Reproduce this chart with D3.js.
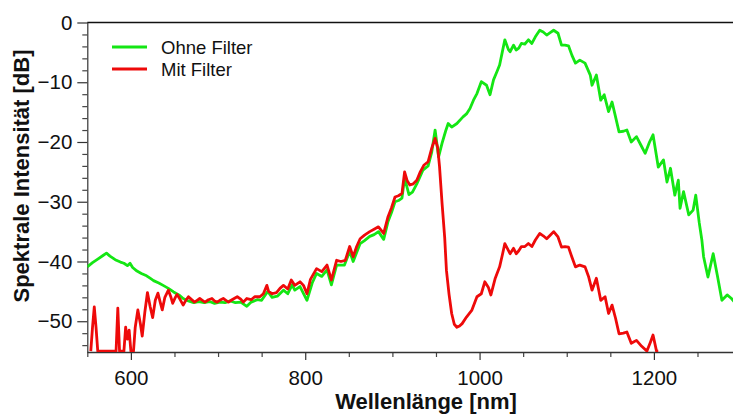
<!DOCTYPE html>
<html>
<head>
<meta charset="utf-8">
<script src="https://cdn.jsdelivr.net/npm/d3@7"></script>
<style>
  html, body { margin: 0; padding: 0; background: #fff; }
  svg { display: block; font-family: "Liberation Sans", Arial, Helvetica, sans-serif; }
</style>
</head>
<body>
<svg id="chart" width="733" height="414"></svg>
<script>
// Spectrum without filter: wavelength [nm] and spectral intensity [dB]
const ohneNm = [550,556,562,568,572,576,582,588,592,596,599,602,607,612,618,622,626,632,637,643,649,655,660,666,672,678,684,690,696,702,708,714,720,726,733,738,745,750,757,762,768,775,780,785,788,794,802,808,813,819,825,830,836,845,851,855,863,868,874,879,884,890,895,899,903,907,911,914,919,923,928,935,941,945,949,953,957,961,964,968,974,981,985,989,993,997,1002,1008,1012,1016,1020,1023,1026,1029,1033,1035,1039,1042,1045,1048,1052,1056,1060,1064,1069,1073,1077,1081,1085,1090,1094,1098,1102,1106,1110,1115,1121,1124,1127,1129,1134,1139,1143,1148,1152,1156,1160,1165,1169,1174,1180,1185,1190,1195,1199,1205,1211,1215,1219,1224,1228,1230,1234,1240,1245,1248,1252,1255,1257,1262,1268,1273,1278,1284,1289,1295];
const ohneDb = [-40.9,-40.2,-39.6,-39.0,-38.6,-39.1,-39.7,-40.1,-40.3,-40.7,-40.3,-41.0,-41.6,-42.0,-42.4,-42.8,-43.2,-43.6,-44.0,-44.5,-45.1,-45.6,-46.2,-46.6,-46.9,-46.7,-46.9,-46.7,-47.0,-46.8,-46.9,-46.6,-46.9,-46.8,-47.5,-46.8,-46.4,-46.5,-45.0,-46.0,-45.8,-44.8,-45.4,-43.9,-44.8,-44.2,-46.5,-43.6,-42.0,-42.5,-41.4,-43.9,-40.6,-40.6,-38.3,-40.0,-37.0,-36.5,-35.8,-35.5,-35.0,-36.3,-33.3,-31.8,-30.0,-29.8,-29.4,-26.0,-28.8,-28.4,-27.0,-24.7,-24.0,-21.8,-18.0,-22.5,-20.2,-18.2,-16.9,-17.5,-16.9,-15.8,-15.3,-14.4,-13.0,-11.9,-9.9,-10.5,-12.1,-9.6,-8.2,-7.1,-5.0,-2.9,-4.5,-4.9,-3.8,-4.6,-4.3,-3.5,-3.6,-2.9,-3.5,-2.4,-1.3,-1.6,-2.1,-1.7,-1.3,-1.8,-3.8,-3.8,-3.9,-5.5,-6.8,-6.3,-6.8,-7.8,-8.8,-10.5,-8.8,-13.0,-12.1,-14.9,-13.3,-15.8,-18.3,-18.2,-18.0,-20.0,-19.1,-20.5,-21.9,-20.0,-18.8,-24.2,-23.0,-26.7,-24.4,-28.9,-26.4,-31.1,-28.3,-32.2,-31.4,-28.9,-33.5,-36.4,-39.2,-42.6,-38.7,-42.5,-46.5,-45.6,-46.2,-47.2];

// Spectrum with filter
const mitNm = [554,556,558,560,562,583,585,587,592,594,596,598,600,603,605,608,611,613,616,619,622,625,628,631,634,636,639,643,646,648,651,653,657,660,663,666,669,673,676,679,682,685,689,693,696,699,702,706,709,712,716,722,726,729,733,738,742,748,752,756,758,762,767,771,775,780,784,788,794,798,802,806,813,819,825,830,836,841,846,851,855,859,863,868,874,879,884,890,895,899,903,907,911,914,917,920,924,928,932,936,941,945,949,952,954,957,960,962,965,968,971,974,977,980,985,991,997,1002,1006,1010,1013,1018,1023,1026,1029,1035,1039,1042,1045,1048,1052,1056,1060,1064,1069,1073,1077,1081,1085,1090,1094,1098,1102,1106,1110,1115,1121,1125,1129,1134,1139,1144,1148,1152,1156,1160,1165,1169,1174,1180,1186,1192,1196,1199,1203,1205];
const mitDb = [-55,-51,-47.6,-51,-55,-55,-47.8,-55,-55,-51,-53,-51.5,-55,-55,-51,-48.1,-50.5,-52.5,-48.5,-45.2,-47.5,-49.4,-46.5,-45.3,-47,-48.1,-46,-44.8,-46,-47,-46,-45.5,-46.5,-47.3,-46.5,-45.9,-46.3,-46.8,-46.5,-46.2,-46.5,-46.8,-46.4,-46.2,-46.6,-46.8,-46.5,-46.2,-46.5,-46.8,-46.4,-45.9,-46.3,-46.8,-46.2,-46.4,-45.9,-45.9,-45.4,-44.0,-45.0,-45.4,-45.2,-44.5,-44.0,-44.6,-43.1,-44.0,-43.4,-44.0,-45.4,-43.0,-41.2,-41.7,-40.6,-43.1,-39.8,-40.0,-39.8,-37.5,-39.2,-37.5,-36.2,-35.6,-35.0,-34.6,-34.2,-35.3,-32.5,-31.0,-29.2,-29.0,-28.6,-25.0,-26.5,-27.2,-27.0,-26.4,-25.0,-23.9,-23.3,-21.1,-19.4,-21.0,-24.0,-30.3,-36,-41.5,-45.5,-48.7,-50.5,-51.0,-50.8,-50.4,-49.3,-48.2,-45.9,-45.4,-43.4,-44.3,-45.6,-42.8,-40.9,-39,-37.0,-38.7,-37.8,-38.7,-38.2,-37.5,-37.5,-37.0,-37.5,-36.4,-35.3,-35.7,-36.2,-35.6,-35.0,-35.9,-37.6,-37.5,-37.6,-39.3,-40.9,-40.6,-40.9,-42.5,-44.8,-42.8,-46.5,-45.9,-48.7,-47.3,-49.5,-52.1,-52.0,-51.8,-53.7,-53.2,-54.2,-55,-53.5,-52.3,-55,-55];

const xMajorTicks = [600, 800, 1000, 1200];
const yMajorTicks = [0, -10, -20, -30, -40, -50];
const seriesNames = ["Ohne Filter", "Mit Filter"];
const seriesColors = ["#14e614", "#ee0a0a"];

const svg = d3.select("#chart");
const W = 733, H = 414;
const plotLeft = 87.3, plotTop = 22.5, plotBottom = 352;

const x = d3.scaleLinear().domain([550, 1300]).range([plotLeft, plotLeft + 750 * 0.8717]);
const y = d3.scaleLinear().domain([-55.15, 0]).range([plotBottom, plotTop]);

svg.append("clipPath").attr("id", "plot-clip")
  .append("rect").attr("x", plotLeft).attr("y", plotTop - 4)
  .attr("width", W - plotLeft).attr("height", plotBottom - plotTop + 4);

// Minor ticks
const xMinor = d3.range(550, 1301, 50).filter(v => !xMajorTicks.includes(v));
const yMinor = d3.range(-54, 0.1, 2).filter(v => !yMajorTicks.includes(v));

svg.append("g").attr("transform", `translate(0,${plotBottom})`)
  .call(d3.axisBottom(x).tickValues(xMinor).tickSize(5).tickFormat("").tickSizeOuter(0))
  .call(g => g.select(".domain").remove())
  .call(g => g.selectAll("line").attr("stroke", "#444").attr("stroke-width", 1.2));

svg.append("g").attr("transform", `translate(${plotLeft},0)`)
  .call(d3.axisLeft(y).tickValues(yMinor).tickSize(5).tickFormat("").tickSizeOuter(0))
  .call(g => g.select(".domain").remove())
  .call(g => g.selectAll("line").attr("stroke", "#444").attr("stroke-width", 1.2));

// Major axes with labels
const xAxis = svg.append("g").attr("transform", `translate(0,${plotBottom})`)
  .call(d3.axisBottom(x).tickValues(xMajorTicks).tickFormat(d3.format("d"))
    .tickSize(8).tickPadding(10).tickSizeOuter(0));
xAxis.select(".domain").attr("d", `M${plotLeft},0.5H${W}`).attr("stroke", "#333").attr("stroke-width", 1.4);
xAxis.selectAll("line").attr("stroke", "#333").attr("stroke-width", 1.2);
xAxis.selectAll("text").attr("font-size", 20.5).attr("fill", "#111")
  .attr("font-family", "'Liberation Sans', Arial, sans-serif");

const yAxis = svg.append("g").attr("transform", `translate(${plotLeft},0)`)
  .call(d3.axisLeft(y).tickValues(yMajorTicks).tickSize(10).tickPadding(5).tickSizeOuter(0));
yAxis.select(".domain").attr("d", `M0.5,${plotTop}V${plotBottom}`).attr("stroke", "#333").attr("stroke-width", 1.2);
yAxis.selectAll("line").attr("stroke", "#333").attr("stroke-width", 1.2);
yAxis.selectAll("text").attr("font-size", 20.5).attr("fill", "#111")
  .attr("font-family", "'Liberation Sans', Arial, sans-serif");

// Top frame line
svg.append("line").attr("x1", plotLeft).attr("x2", W).attr("y1", plotTop).attr("y2", plotTop)
  .attr("stroke", "#111").attr("stroke-width", 1.6);

// Curves
const line = d3.line().x(d => x(d[0])).y(d => y(d[1]));
const curves = [
  d3.zip(ohneNm, ohneDb),
  d3.zip(mitNm, mitDb)
];
const plot = svg.append("g").attr("clip-path", "url(#plot-clip)");
curves.forEach((pts, i) => {
  plot.append("path").datum(pts)
    .attr("d", line)
    .attr("fill", "none")
    .attr("stroke", seriesColors[i])
    .attr("stroke-width", 2.8)
    .attr("stroke-linejoin", "round");
});

// Legend
const legend = svg.append("g");
seriesNames.forEach((name, i) => {
  const ly = 47 + i * 22;
  legend.append("line").attr("x1", 112).attr("x2", 147).attr("y1", ly).attr("y2", ly)
    .attr("stroke", seriesColors[i]).attr("stroke-width", 3.2);
  legend.append("text").attr("x", 161).attr("y", ly + 6.5)
    .attr("font-size", 18.5).attr("fill", "#111").text(name);
});

// Axis titles
svg.append("text").attr("x", 426).attr("y", 409).attr("text-anchor", "middle")
  .attr("font-size", 22).attr("font-weight", "bold").attr("fill", "#111")
  .text("Wellenlänge [nm]");
svg.append("text").attr("transform", "translate(28.5,176) rotate(-90)")
  .attr("text-anchor", "middle")
  .attr("font-size", 22).attr("font-weight", "bold").attr("fill", "#111")
  .text("Spektrale Intensität [dB]");
</script>
</body>
</html>
